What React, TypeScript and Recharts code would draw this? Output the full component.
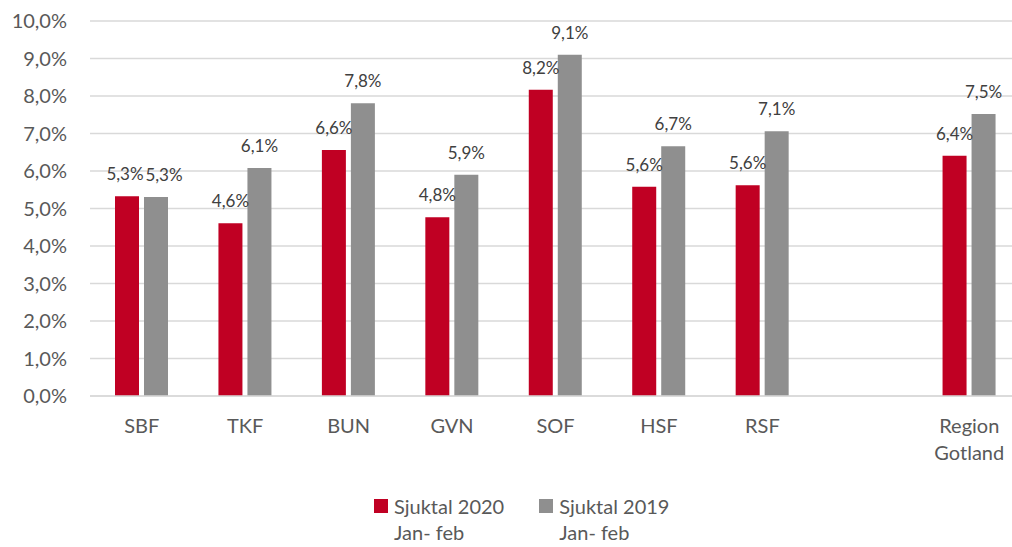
import { BarChart, Bar, XAxis, YAxis, CartesianGrid, LabelList, Legend } from 'recharts'

const CATEGORIES = ['SBF', 'TKF', 'BUN', 'GVN', 'SOF', 'HSF', 'RSF', '', 'Region Gotland']
const SJUKTAL_2020 = [5.33, 4.61, 6.56, 4.77, 8.17, 5.58, 5.62, null, 6.41]
const SJUKTAL_2019 = [5.31, 6.08, 7.81, 5.9, 9.1, 6.66, 7.06, null, 7.52]
const Y_TICKS = [0, 1, 2, 3, 4, 5, 6, 7, 8, 9, 10]

const RED = '#c00023'
const GRAY = '#8f8f8f'
const TEXT = '#595959'
const FONT = 'Lato, "Open Sans", sans-serif'

const data = CATEGORIES.map((name, i) => ({
  name,
  s2020: SJUKTAL_2020[i],
  s2019: SJUKTAL_2019[i],
}))

const pct = (v: number) => v.toFixed(1).replace('.', ',') + '%'

// labels of a pair that sit at the same height get pushed apart (like Excel does)
function sameHeight(i: number) {
  const a = SJUKTAL_2020[i]
  const b = SJUKTAL_2019[i]
  return a != null && b != null && Math.abs(a - b) < 0.3
}

function makeLabel(series: '2020' | '2019') {
  return function ValueLabel(props: any) {
    const { x, y, width, value, index } = props
    if (value == null) return null
    let dx = 0
    if (sameHeight(index)) dx = series === '2020' ? -2 : 8
    return (
      <text x={x + width / 2 + dx} y={y - 16} textAnchor="middle" fill="#404040" fontSize={17} fontFamily={FONT}>
        {pct(Number(value))}
      </text>
    )
  }
}
const Label2020 = makeLabel('2020')
const Label2019 = makeLabel('2019')

function CategoryTick(props: any) {
  const { x, y, payload } = props
  const words = String(payload.value).split(' ').filter(Boolean)
  return (
    <text x={x} y={y} textAnchor="middle" fill={TEXT} fontSize={20} fontFamily={FONT}>
      {words.map((w, i) => (
        <tspan key={i} x={x} dy={i === 0 ? 29 : 27}>{w}</tspan>
      ))}
    </text>
  )
}

function LegendBox() {
  const items = [
    { color: RED, label: 'Sjuktal 2020' },
    { color: GRAY, label: 'Sjuktal 2019' },
  ]
  return (
    <div style={{ display: 'flex', justifyContent: 'flex-start', paddingLeft: 374, fontFamily: FONT, color: TEXT, fontSize: 20 }}>
      {items.map((it) => (
        <div key={it.label} style={{ display: 'flex', alignItems: 'flex-start', marginRight: 35 }}>
          <span style={{ display: 'inline-block', width: 14, height: 14, background: it.color, marginTop: 6, marginRight: 6 }} />
          <div style={{ lineHeight: '26px' }}>
            <div>{it.label}</div>
            <div>Jan- feb</div>
          </div>
        </div>
      ))}
    </div>
  )
}

export default function App() {
  return (
    <div style={{ position: 'absolute', left: 0, top: 0, width: 1012, height: 547, overflow: 'hidden', background: '#fff' }}>
      <BarChart
        width={1021}
        height={547}
        data={data}
        margin={{ top: 21, right: 0, bottom: 19, left: 0 }}
        barSize={24}
        barGap={5}
      >
        <CartesianGrid vertical={false} stroke="#d9d9d9" strokeWidth={1.5} />
        <XAxis
          dataKey="name"
          axisLine={{ stroke: '#d9d9d9', strokeWidth: 1.5 }}
          tickLine={false}
          tick={<CategoryTick />}
          height={80}
          interval={0}
        />
        <YAxis
          domain={[0, 10]}
          ticks={Y_TICKS}
          tickFormatter={pct}
          axisLine={false}
          tickLine={false}
          width={90}
          tickMargin={17}
          tick={{ fill: TEXT, fontSize: 20, fontFamily: FONT }}
        />
        <Legend
          content={() => <LegendBox />}
          wrapperStyle={{ position: 'absolute', left: 0, top: 493, width: 1012 }}
        />
        <Bar dataKey="s2020" name="Sjuktal 2020 Jan- feb" fill={RED} isAnimationActive={false}>
          <LabelList dataKey="s2020" content={<Label2020 />} />
        </Bar>
        <Bar dataKey="s2019" name="Sjuktal 2019 Jan- feb" fill={GRAY} isAnimationActive={false}>
          <LabelList dataKey="s2019" content={<Label2019 />} />
        </Bar>
      </BarChart>
    </div>
  )
}
